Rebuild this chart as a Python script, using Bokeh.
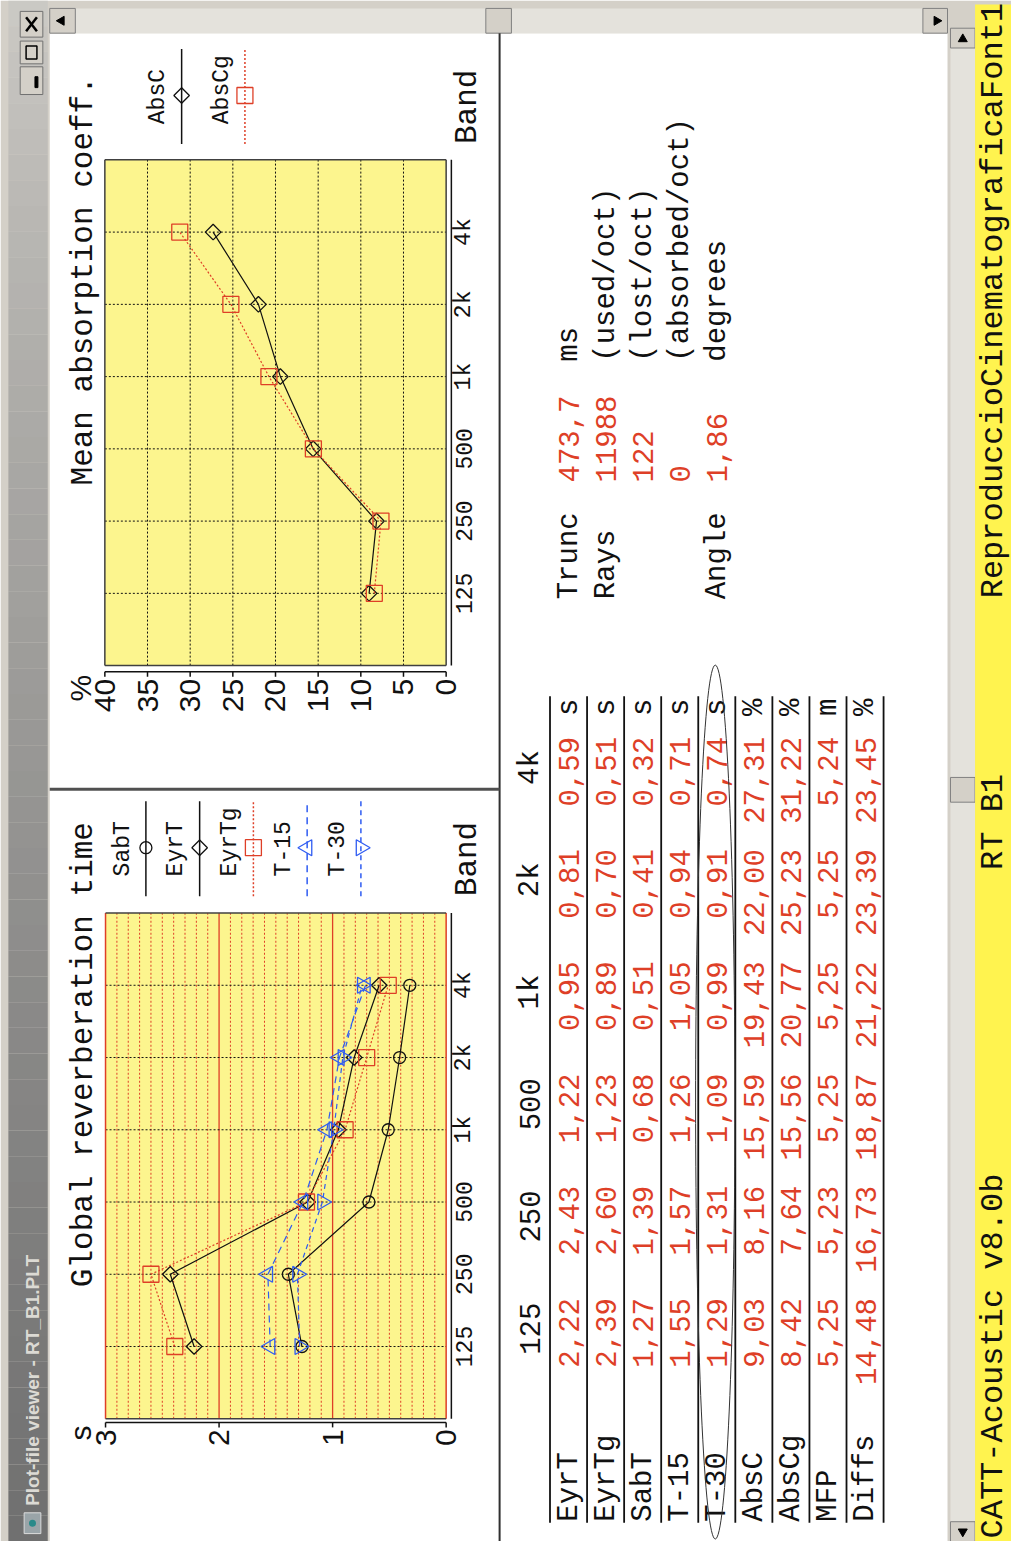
import math
import numpy as np
from bokeh.plotting import figure
from bokeh.models import Range1d
from bokeh.core.properties import value
from bokeh.embed import file_html
from bokeh.resources import INLINE

# ---------------- data ----------------
bands = ["125", "250", "500", "1k", "2k", "4k"]
band_idx = [0, 1, 2, 3, 4, 5]

sabt = [1.27, 1.39, 0.68, 0.51, 0.41, 0.32]
eyrt = [2.22, 2.43, 1.22, 0.95, 0.81, 0.59]
eyrtg = [2.39, 2.60, 1.23, 0.89, 0.70, 0.51]
t15 = [1.55, 1.57, 1.26, 1.05, 0.94, 0.71]
t30 = [1.29, 1.31, 1.09, 0.99, 0.91, 0.74]
absc = [9.03, 8.16, 15.59, 19.43, 22.00, 27.31]
abscg = [8.42, 7.64, 15.56, 20.77, 25.23, 31.22]
mfp = [5.25, 5.23, 5.25, 5.25, 5.25, 5.24]
diffs = [14.48, 16.73, 18.87, 21.22, 23.39, 23.45]

rt_ticks = [0, 1, 2, 3]
rt_tick_labels = ["0", "1", "2", "3"]
rt_minor = [k / 10 for k in range(1, 30) if k % 10 != 0]
rt_major = [1, 2]
ab_ticks = [0, 5, 10, 15, 20, 25, 30, 35, 40]
ab_tick_labels = ["0", "5", "10", "15", "20", "25", "30", "35", "40"]
ab_grid = [5, 10, 15, 20, 25, 30, 35]

table_rows = ["EyrT", "EyrTg", "SabT", "T-15", "T-30", "AbsC", "AbsCg", "MFP", "Diffs"]
table_units = ["s", "s", "s", "s", "s", "%", "%", "m", "%"]
table_data = [eyrt, eyrtg, sabt, t15, t30, absc, abscg, mfp, diffs]

info_labels = ["Trunc", "Rays", "", "", "Angle"]
info_values = ["473,7", "11988", "122", "0", "1,86"]
info_units = ["ms", "(used/oct)", "(lost/oct)", "(absorbed/oct)", "degrees"]

window_title = "Plot-file viewer - RT_B1.PLT"
status_left = "CATT-Acoustic v8.0b"
status_mid = "RT B1"
status_right = "ReproduccioCinematograficaFont1"

# ---------------- styles ----------------
RED = "#de3f27"
BLUE = "#2f5cf2"
BLACK = "#111111"
YEL = "#fcf58e"
STATUS_YEL = "#fff34f"
GRAY = "#d4d0c8"
TRACK = "#e4e2dc"
MONO = value("Liberation Mono")
SANS = value("Liberation Sans")
UP = math.pi / 2

REF_W, REF_H = 1027, 1557


def Y(ry):
    return REF_H - ry


def lin_range(va, pa, vb, pb, total):
    s = (vb - va) / (pb - pa)
    return Range1d(start=va + (0 - pa) * s, end=va + (total - pa) * s)


p = figure(width=1011, height=1541, x_range=Range1d(0, REF_W), y_range=Range1d(0, REF_H),
           output_backend="svg", toolbar_location=None, min_border=0,
           x_axis_type=None, y_axis_type=None, outline_line_color=None,
           background_fill_color="white", border_fill_color="white")
p.xgrid.visible = False
p.ygrid.visible = False

p.extra_x_ranges = {
    "rtv": lin_range(3, 106.7, 0, 452.7, REF_W),
    "abv": lin_range(40, 106.0, 0, 452.7, REF_W),
}
p.extra_y_ranges = {
    "rtb": lin_range(0, Y(1360), 5, Y(995), REF_H),
    "abb": lin_range(0, Y(599), 5, Y(234), REF_H),
}


def rect(x0, x1, y0, y1, fill, line=None, lw=1):
    p.quad(left=[x0], right=[x1], top=[Y(y0)], bottom=[Y(y1)], fill_color=fill,
           line_color=line, line_width=lw)


def vtext(x, y, s, size, color=BLACK, align="left", baseline="middle", font=MONO,
          style="normal", **kw):
    xs = x if isinstance(x, list) else [x]
    ys = y if isinstance(y, list) else [y]
    ss = s if isinstance(s, list) else [s]
    p.text(x=xs, y=ys, text=ss, angle=UP, text_align=align, text_baseline=baseline,
           text_font=font, text_font_size=f"{size}px", text_color=color,
           text_font_style=style, **kw)


# ---------------- window chrome ----------------
rect(0, REF_W, 0, REF_H, GRAY)
# title bar gradient (dark at bottom -> light at top)
n = 60
edges = np.linspace(0, REF_H, n + 1)
c0 = np.array([205, 203, 198])
c1 = np.array([112, 112, 112])
cols = []
for k in range(n):
    t = ((k + 0.5) / n) ** 0.8
    c = (c0 + (c1 - c0) * t).astype(int)
    cols.append("#%02x%02x%02x" % tuple(c))
p.quad(left=[8] * n, right=[48] * n, top=[Y(e) for e in edges[:-1]],
       bottom=[Y(e) for e in edges[1:]], fill_color=cols, line_color=None)
vtext(33, Y(1521), window_title, 19, color="#dcdad4", baseline="middle",
      font=SANS, style="bold")
rect(24, 41, 1528, 1549, "#9aa4a8", "#dcdcdc")
p.scatter(x=[32.5], y=[Y(1538.5)], size=7, fill_color="#2a8a8a", line_color=None)

# window buttons
for (a, b) in [(11, 37), (41, 64), (67, 95)]:
    rect(20, 43, a, b, GRAY, "#707070")
p.segment(x0=[26, 26], y0=[Y(17), Y(31)], x1=[37, 37], y1=[Y(31), Y(17)],
          line_color="black", line_width=2.5)
rect(26, 37, 46, 59, None, "black", 1.5)
rect(35, 38, 77, 88, "black", "black")

# content area
rect(50, 962, 33, REF_H, "white")

# top scrollbar
rect(50, 962, 8, 33, TRACK)
for (a, b) in [(50, 76), (493, 519), (937, 962)]:
    rect(a, b, 8, 33, GRAY, "#808080")
p.scatter(x=[62, 951], y=[Y(20.5), Y(20.5)], marker="triangle", angle=[UP, -UP],
          size=9, fill_color="black", line_color="black")
# right scrollbar
rect(965, 990, 28, REF_H, TRACK)
for (a, b) in [(28, 48), (785, 810), (1537, REF_H)]:
    rect(965, 990, a, b, GRAY, "#808080")
p.scatter(x=[977.5, 977.5], y=[Y(39), Y(1547)], marker="triangle", angle=[0, math.pi],
          size=9, fill_color="black", line_color="black")
# status bar
rect(990, REF_W, 4, REF_H, STATUS_YEL)
vtext(1009, Y(604), status_right, 32)
vtext(1009, Y(830), status_mid, 32, align="center")
vtext(1009, Y(1554), status_left, 32)

# panel dividers
p.segment(x0=[507], y0=[Y(33)], x1=[507], y1=[Y(REF_H)], line_color="#303030", line_width=2)
p.segment(x0=[50], y0=[Y(797)], x1=[507], y1=[Y(797)], line_color="#505050", line_width=3)

# ---------------- charts ----------------
rt_series = [
    ("SabT", sabt, dict(color=BLACK, dash="solid", marker="circle", size=12, angle=0)),
    ("EyrT", eyrt, dict(color=BLACK, dash="solid", marker="square", size=11, angle=math.pi / 4)),
    ("EyrTg", eyrtg, dict(color=RED, dash="2 2", marker="square", size=16, angle=0)),
    ("T-15", t15, dict(color=BLUE, dash="7 5", marker="triangle", size=16, angle=UP)),
    ("T-30", t30, dict(color=BLUE, dash="5 4", marker="inverted_triangle", size=16, angle=UP)),
]
ab_series = [
    ("AbsC", absc, dict(color=BLACK, dash="solid", marker="square", size=11, angle=math.pi / 4)),
    ("AbsCg", abscg, dict(color=RED, dash="2 2", marker="square", size=16, angle=0)),
]


def draw_chart(xr, yr, vmax, minor, major, minor_color, grid_dash, edge_lr, series,
               ticks, tick_labels, unit, title, title_start, legend_bottom, legend_x0,
               legend_step, axis_y):
    kw = dict(x_range_name=xr, y_range_name=yr)
    p.quad(left=[vmax], right=[0], bottom=[-1], top=[6], fill_color=YEL, line_color=None, **kw)
    if minor:
        p.segment(x0=minor, x1=minor, y0=[-1] * len(minor), y1=[6] * len(minor),
                  line_color=minor_color, line_dash=grid_dash, line_width=1, **kw)
    if major:
        p.segment(x0=major, x1=major, y0=[-1] * len(major), y1=[6] * len(major),
                  line_color=RED, line_width=1.3, **kw)
    p.segment(x0=[vmax] * 6, x1=[0] * 6, y0=band_idx, y1=band_idx,
              line_color=BLACK, line_dash="2 2", line_width=1, **kw)
    # frame border
    p.segment(x0=[vmax, 0], x1=[vmax, 0], y0=[-1, -1], y1=[6, 6],
              line_color=edge_lr, line_width=1.5, **kw)
    p.segment(x0=[vmax, vmax], x1=[0, 0], y0=[-1, 6], y1=[-1, 6],
              line_color="#404040", line_width=1.5, **kw)
    # series
    for name, vals, st in series:
        p.line(x=vals, y=band_idx, line_color=st["color"], line_dash=st["dash"],
               line_width=1.2, **kw)
        p.scatter(x=vals, y=band_idx, marker=st["marker"], size=st["size"],
                  angle=st["angle"], fill_alpha=0, line_color=st["color"],
                  line_width=1.3, **kw)
    # value axis (horizontal in rotated view)
    p.segment(x0=[vmax], x1=[0], y0=[Y(axis_y)], y1=[Y(axis_y)], line_color=BLACK,
              line_width=1.5, x_range_name=xr)
    p.segment(x0=ticks, x1=ticks, y0=[Y(axis_y)] * len(ticks),
              y1=[Y(axis_y + 5)] * len(ticks), line_color=BLACK, line_width=1.5,
              x_range_name=xr)
    vtext(list(ticks), [Y(axis_y + 7)] * len(ticks), list(tick_labels), 30, align="right",
          font=SANS, x_range_name=xr)
    vtext(81, Y(axis_y + 3), unit, 30, align="right", font=SANS)
    # band axis
    p.segment(x0=[458], x1=[458], y0=[-1], y1=[6], line_color=BLACK, line_width=1.5,
              y_range_name=yr)
    vtext([471] * 6, band_idx, bands, 23, align="center", y_range_name=yr)
    vtext(474, Y(legend_bottom), "Band", 31)
    # title
    vtext(84, Y(title_start), title, 31)
    # legend
    for i, (name, vals, st) in enumerate(series):
        lx = legend_x0 + legend_step * i
        vtext(lx - 23.7, Y(legend_bottom - 20), name, 23)
        p.segment(x0=[lx], x1=[lx], y0=[Y(legend_bottom)], y1=[Y(legend_bottom - 96)],
                  line_color=st["color"], line_dash=st["dash"], line_width=1.5)
        p.scatter(x=[lx], y=[Y(legend_bottom - 49)], marker=st["marker"], size=st["size"],
                  angle=st["angle"], fill_alpha=0, line_color=st["color"], line_width=1.3)


draw_chart("rtv", "rtb", 3, rt_minor, rt_major, RED, "2 2", RED, rt_series,
           rt_ticks, rt_tick_labels, "s", "Global reverberation time", 1300,
           905, 147.7, 54.6, 1436.7)
draw_chart("abv", "abb", 40, ab_grid, [], BLACK, "2 2", "#404040", ab_series,
           ab_ticks, ab_tick_labels, "%", "Mean absorption coeff.", 490,
           145, 184, 64.3, 678.3)

# ---------------- table ----------------
ROW0, ROWSTEP = 577.5, 37.65
COL_END0, COLSTEP = 1311, 113.4
row_x = [ROW0 + ROWSTEP * i for i in range(len(table_rows))]
col_end = [COL_END0 - COLSTEP * j for j in range(len(bands))]

vtext([538] * 6, [Y(c + 31) for c in col_end], bands, 29, align="center")
for i, (name, vals) in enumerate(zip(table_rows, table_data)):
    vtext(row_x[i], Y(1537), name, 29)
    vtext([row_x[i]] * 6, [Y(c) for c in col_end],
          [f"{v:.2f}".replace(".", ",") for v in vals], 29, color=RED, align="right")
    vtext(row_x[i], Y(723), table_units[i], 29)
line_x = [ROW0 - 19.3 + ROWSTEP * k for k in range(len(table_rows) + 1)]
p.segment(x0=line_x, x1=line_x, y0=[Y(703)] * len(line_x), y1=[Y(1538)] * len(line_x),
          line_color=BLACK, line_width=1.8)
p.ellipse(x=[row_x[4] - 2], y=[Y(1113)], width=[40], height=[883], fill_color=None,
          line_color="#333333", line_width=1)

# ---------------- info block ----------------
for i in range(len(info_labels)):
    vtext(row_x[i], Y(605), info_labels[i], 29)
    vtext(row_x[i], Y(487), info_values[i], 29, color=RED)
    vtext(row_x[i], Y(365), info_units[i], 29)

open("out.html", "w").write(file_html(p, INLINE))
